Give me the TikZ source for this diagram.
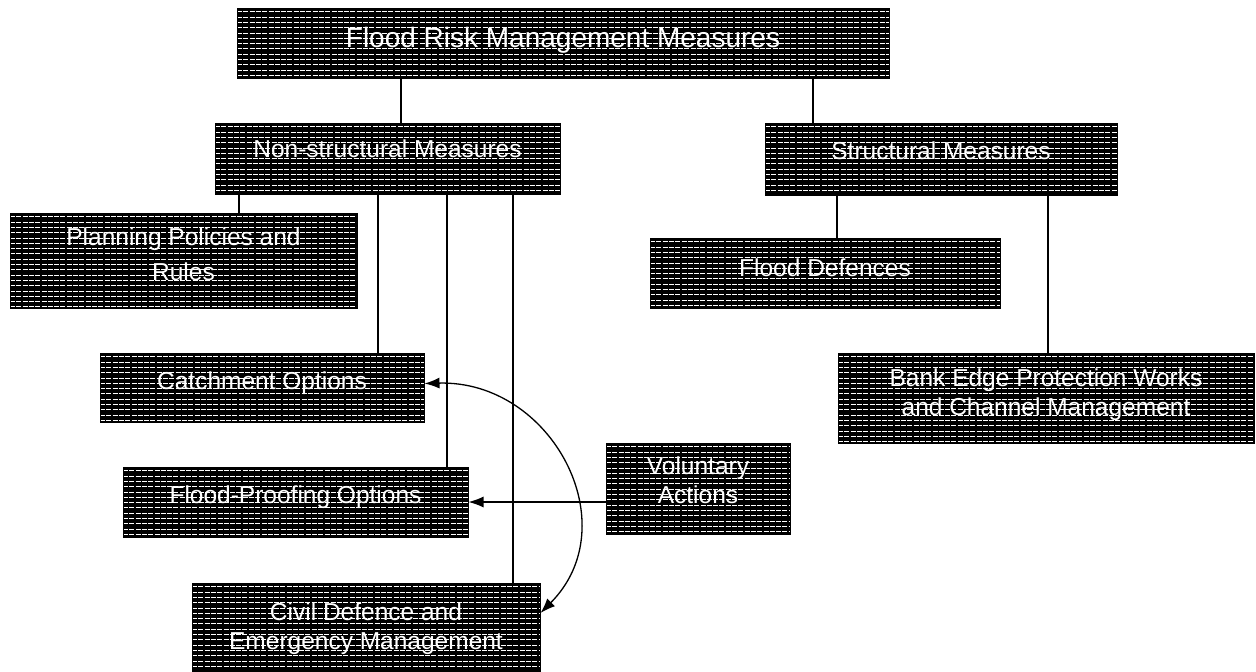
\documentclass[tikz,border=0pt]{standalone}
\usepackage{fontspec}
\setmainfont{Liberation Sans}
\usetikzlibrary{arrows.meta,calc}
\newcommand{\liftT}[2][6pt]{\raisebox{#1}[\height][\depth]{\begin{tabular}{@{}c@{}}#2\end{tabular}}}
\tikzset{
  hatchbox/.style={draw=black, line width=1pt, fill=black, text=white, inner sep=0pt,
    font=\fontsize{24.5}{29}\selectfont,
    path picture={
      \foreach \k in {1,...,30}{
        \draw[white, line width=1pt, dash pattern=on 5pt off 1.3pt]
          ([yshift={-\k*5.3pt+1.5pt}]path picture bounding box.north west) --
          ([yshift={-\k*5.3pt+1.5pt}]path picture bounding box.north east);
      }
    }},
  bigfont/.style={font=\fontsize{28}{33}\selectfont},
  conn/.style={draw=black, line width=1.3pt},
  arr/.style={draw=black, line width=1.3pt, -{Latex[length=15pt,width=11pt]}},
  dblarr/.style={draw=black, line width=1.3pt, {Latex[length=15pt,width=11pt]}-{Latex[length=15pt,width=11pt]}}
}
\begin{document}
\begin{tikzpicture}[x=1pt,y=-1pt]
\fill[white] (0,0) rectangle (1256,672);
\useasboundingbox (0,0) rectangle (1256,672);

\node[hatchbox, bigfont, minimum width=652pt, minimum height=70pt] (top) at (563,43) {\liftT[2pt]{Flood Risk Management Measures}};
\node[hatchbox, minimum width=345pt, minimum height=71pt] (ns) at (387.5,158.5) {\liftT[7pt]{Non-structural Measures}};
\node[hatchbox, minimum width=352pt, minimum height=72pt] (st) at (941,159) {\liftT[5pt]{Structural Measures}};
\node[hatchbox, minimum width=347pt, minimum height=95pt] (plan) at (183.5,260.5) {\liftT[3pt]{Planning Policies and\\[6pt]Rules}};
\node[hatchbox, minimum width=324pt, minimum height=69pt] (catch) at (262,387.5) {\liftT[4pt]{Catchment Options}};
\node[hatchbox, minimum width=345pt, minimum height=70pt] (fp) at (295.5,502) {\liftT[4pt]{Flood-Proofing Options}};
\node[hatchbox, minimum width=348pt, minimum height=88pt] (civ) at (366,627) {\liftT[-2pt]{Civil Defence and\\Emergency Management}};
\node[hatchbox, minimum width=184pt, minimum height=91pt] (vol) at (698,488.5) {\liftT[5pt]{Voluntary\\Actions}};
\node[hatchbox, minimum width=350pt, minimum height=70pt] (fd) at (825,273) {\liftT[2pt]{Flood Defences}};
\node[hatchbox, minimum width=416pt, minimum height=90pt] (be) at (1046,398) {\liftT[3pt]{Bank Edge Protection Works\\and Channel Management}};

\coordinate (xa) at (401,0);
\coordinate (xb) at (813,0);
\coordinate (xc) at (239,0);
\coordinate (xd) at (378,0);
\coordinate (xe) at (447,0);
\coordinate (xf) at (513,0);
\coordinate (xg) at (837,0);
\coordinate (xh) at (1048,0);

\draw[conn] (top.south -| xa) -- (ns.north -| xa);
\draw[conn] (top.south -| xb) -- (st.north -| xb);
\draw[conn] (ns.south -| xc) -- (plan.north -| xc);
\draw[conn] (ns.south -| xd) -- (catch.north -| xd);
\draw[conn] (ns.south -| xe) -- (fp.north -| xe);
\draw[conn] (ns.south -| xf) -- (civ.north -| xf);
\draw[conn] (st.south -| xg) -- (fd.north -| xg);
\draw[conn] (st.south -| xh) -- (be.north -| xh);

\draw[dblarr] ([yshift=4pt]catch.east) .. controls (552,380) and (628,525) .. ([yshift=14pt]civ.east);
\draw[arr] (vol.west |- fp.east) -- (fp.east);
\end{tikzpicture}
\end{document}
